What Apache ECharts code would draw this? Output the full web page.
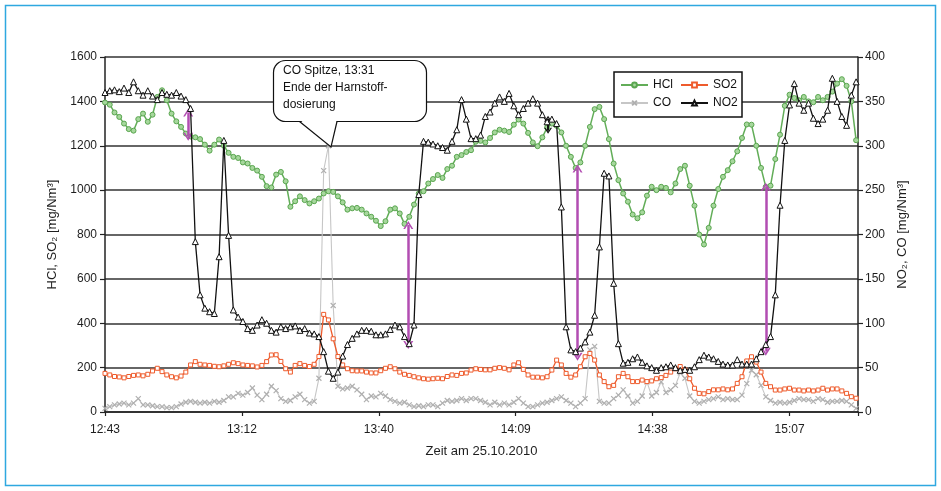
<!DOCTYPE html>
<html><head><meta charset="utf-8">
<script src="https://cdn.jsdelivr.net/npm/echarts@6/dist/echarts.min.js"></script>
<style>html,body{margin:0;padding:0;background:#fff}#c{width:941px;height:491px}</style>
</head><body><div id="c"></div>
<script>
// x = minutes after 12:43, one reading per minute
const tickLabels = ['12:43','13:12','13:40','14:09','14:38','15:07'];
const tickStep = 28.8;
const xMax = 158.4;

const hcl = [1395,1385,1350,1330,1300,1275,1268,1320,1345,1308,
1340,1420,1450,1405,1345,1310,1285,1255,1242,1238,
1230,1205,1178,1205,1228,1200,1168,1150,1145,1125,
1120,1100,1088,1060,1018,1012,1070,1082,1040,925,
950,972,955,940,950,962,985,995,992,972,
945,912,918,920,912,895,880,862,838,860,
912,918,895,848,880,935,985,995,1030,1050,
1068,1055,1095,1110,1150,1158,1172,1180,1218,1222,
1215,1235,1260,1272,1268,1262,1295,1318,1300,1258,
1215,1198,1238,1282,1300,1290,1260,1200,1150,1100,
1125,1200,1285,1365,1375,1320,1230,1120,1045,985,
948,890,873,900,975,1015,1000,1015,1010,990,
1030,1095,1110,1020,930,800,755,830,930,1005,
1060,1090,1130,1175,1235,1296,1295,1200,1100,1015,
1020,1140,1250,1380,1430,1415,1405,1420,1400,1396,
1420,1405,1420,1444,1480,1500,1470,1400,1225];

const so2 = [174,167,160,158,154,160,165,167,163,170,
185,197,182,167,159,154,162,180,212,227,
215,212,210,206,204,208,215,222,218,212,
210,208,203,210,227,257,258,228,195,180,
210,218,210,205,215,250,440,415,330,250,
212,195,186,185,185,180,176,176,186,197,
204,195,180,170,165,159,154,150,148,150,
152,150,160,167,165,174,176,189,195,192,
190,190,197,200,197,190,212,222,192,167,
157,157,154,159,189,234,212,174,157,167,
204,249,264,234,167,137,114,120,159,174,
159,137,137,144,137,140,150,155,165,180,
195,205,190,150,107,84,82,92,100,100,
104,100,104,129,159,230,249,225,180,129,
114,99,99,104,107,99,99,95,99,95,
99,107,99,104,104,95,84,69,62];

const co = [4,6,8,9,10,8,10,15,8,8,
7,6,6,5,5,6,9,11,12,11,
10,11,10,12,11,13,17,17,21,19,
22,27,19,14,20,29,24,15,12,13,
17,20,14,10,12,38,272,300,120,29,
26,27,29,25,20,14,18,17,21,18,
14,12,10,11,8,6,7,6,8,8,
6,10,13,12,13,15,13,15,15,13,
11,8,11,8,10,8,11,15,10,6,
6,8,10,11,13,15,17,13,10,6,
10,15,70,74,12,10,10,15,19,25,
18,10,12,18,34,18,22,34,22,25,
30,44,38,18,12,10,12,14,15,17,
14,15,14,14,19,32,47,42,30,17,
13,10,11,10,11,13,15,14,14,12,
15,14,11,12,12,13,12,8,4];

const no2 = [360,362,363,361,365,360,372,362,357,362,
356,352,360,358,357,360,356,352,342,192,
132,117,113,111,175,306,199,115,107,102,
94,92,98,104,100,92,90,96,94,96,
97,92,94,89,88,85,68,46,38,45,
63,76,83,88,92,92,91,87,87,88,
93,98,96,85,77,98,245,305,304,302,
300,298,295,305,318,352,330,308,308,312,
333,338,348,355,350,359,345,335,342,348,
353,348,335,327,330,325,231,96,70,68,
72,79,90,109,186,269,266,145,77,55,
56,60,62,56,52,50,47,50,51,53,
50,47,48,47,51,59,64,62,60,57,
54,53,53,59,54,54,54,60,68,76,
85,132,233,306,346,370,348,340,348,331,
325,330,340,376,350,333,323,357,372];

// annotation arrows: [minute, from, to] in left-axis units
const arrows = [[17.5,1350,1241],[63.8,843,302],[99.4,1098,249],[139,1015,272]];
const blackArrow = [93.2,1322,1268];

const FONT = 'Liberation Sans, Arial, sans-serif';
const TXT = '#1e1e1e';
const chev = 'path://M0,10L5,0L10,10L8.2,10L5,3.6L1.8,10Z';
const toXY = a => a.map((v,i)=>[i,v]);

const markData = arrows.map(a => [
  {coord:[a[0],a[1]], symbol:chev, symbolSize:[10,8]},
  {coord:[a[0],a[2]], symbol:chev, symbolSize:[10,8]}
]);
markData.push([
  {coord:[blackArrow[0],blackArrow[1]], symbol:chev, symbolSize:[8,6], lineStyle:{color:'#111',width:2}},
  {coord:[blackArrow[0],blackArrow[2]], symbol:chev, symbolSize:[8,6], lineStyle:{color:'#111',width:2}}
]);

const chart = echarts.init(document.getElementById('c'));
chart.setOption({
  animation:false,
  backgroundColor:'#fff',
  grid:{left:105,right:83,top:57,bottom:79,containLabel:false,outerBoundsMode:'none'},
  xAxis:{type:'value',min:0,max:xMax,interval:tickStep,
    axisLine:{lineStyle:{color:'#222',width:1.5}},
    axisTick:{length:4,lineStyle:{color:'#222',width:1.2}},
    splitLine:{show:false},
    axisLabel:{margin:12,color:TXT,fontSize:12,fontFamily:FONT,
      formatter:v=>{const k=v/tickStep,i=Math.round(k);return (Math.abs(k-i)<1e-6&&i<tickLabels.length)?tickLabels[i]:'';}},
    name:'Zeit am 25.10.2010',nameLocation:'middle',nameGap:33,
    nameTextStyle:{color:TXT,fontSize:13,fontFamily:FONT}},
  yAxis:[
    {type:'value',min:0,max:1600,interval:200,position:'left',
     axisLine:{show:true,lineStyle:{color:'#222',width:1.5}},
     axisTick:{show:true,length:5,lineStyle:{color:'#222',width:1.2}},
     splitLine:{show:true,lineStyle:{color:'#333',width:1.6}},
     axisLabel:{margin:8,color:TXT,fontSize:12,fontFamily:FONT,formatter:v=>String(v)},
     name:'HCl, SO₂ [mg/Nm³]',nameLocation:'middle',nameGap:46,
     nameTextStyle:{color:TXT,fontSize:13,fontFamily:FONT}},
    {type:'value',min:0,max:400,interval:50,position:'right',
     axisLine:{show:true,lineStyle:{color:'#222',width:1.5}},
     axisTick:{show:true,length:5,lineStyle:{color:'#222',width:1.2}},
     splitLine:{show:false},
     axisLabel:{margin:7,color:TXT,fontSize:12,fontFamily:FONT,formatter:v=>String(v)},
     name:'NO₂, CO [mg/Nm³]',nameLocation:'middle',nameGap:37,
     nameTextStyle:{color:TXT,fontSize:13,fontFamily:FONT}}
  ],
  legend:[
    {data:['HCl','CO'],orient:'vertical',left:615,top:74,itemWidth:27,itemHeight:6,itemGap:6,
     textStyle:{color:'#111',fontSize:12,fontFamily:FONT},z:20,selectedMode:false},
    {data:['SO2','NO2'],orient:'vertical',left:675,top:74,itemWidth:27,itemHeight:6,itemGap:6,
     textStyle:{color:'#111',fontSize:12,fontFamily:FONT},z:20,selectedMode:false}
  ],
  series:[
    {name:'HCl',type:'line',yAxisIndex:0,data:toXY(hcl),showAllSymbol:true,
     symbol:'circle',symbolSize:5,z:3,
     lineStyle:{color:'#62ad58',width:1.5},
     itemStyle:{color:'#a6d79c',borderColor:'#5aa650',borderWidth:1},
     markLine:{silent:true,animation:false,label:{show:false},
       lineStyle:{color:'#b24db2',width:2.5,type:'solid'},data:markData}},
    {name:'SO2',type:'line',yAxisIndex:0,data:toXY(so2),showAllSymbol:true,
     symbol:'rect',symbolSize:4,z:4,
     lineStyle:{color:'#ee5b2c',width:1.3},
     itemStyle:{color:'#fff',borderColor:'#ee5b2c',borderWidth:1}},
    {name:'CO',type:'line',yAxisIndex:1,data:toXY(co),showAllSymbol:true,
     symbol:'path://M0,0L10,10M10,0L0,10',symbolSize:5,z:2,
     lineStyle:{color:'#c6c6c6',width:1.1},
     itemStyle:{color:'#b5b5b5',borderColor:'#b0b0b0',borderWidth:1.2}},
    {name:'NO2',type:'line',yAxisIndex:1,data:toXY(no2),showAllSymbol:true,
     symbol:'triangle',symbolSize:6,z:5,
     lineStyle:{color:'#111',width:1.3},
     itemStyle:{color:'#fff',borderColor:'#111',borderWidth:1}}
  ],
  graphic:[
    {type:'rect',silent:true,z:0,shape:{x:5.5,y:5.5,width:930,height:480},
     style:{fill:'none',stroke:'#2ea8e0',lineWidth:1.5}},
    {type:'rect',silent:true,z:15,shape:{x:614,y:72,width:128,height:45},
     style:{fill:'#fff',stroke:'#111',lineWidth:1.5}},
    {type:'rect',silent:true,z:30,shape:{x:273.5,y:60.5,width:153,height:61,r:12},
     style:{fill:'#fff',stroke:'#111',lineWidth:1.2}},
    {type:'polygon',silent:true,z:31,shape:{points:[[299,119],[337,119],[331,147]]},
     style:{fill:'#fff',stroke:'none'}},
    {type:'polyline',silent:true,z:32,shape:{points:[[299.5,121.5],[331,147],[337,121.5]]},
     style:{fill:'none',stroke:'#111',lineWidth:1.2}},
    {type:'text',silent:true,z:33,x:283,y:62,
     style:{text:'CO Spitze, 13:31\nEnde der Harnstoff-\ndosierung',font:'12px '+FONT,
       fill:'#111',lineHeight:17}}
  ]
});
</script></body></html>
